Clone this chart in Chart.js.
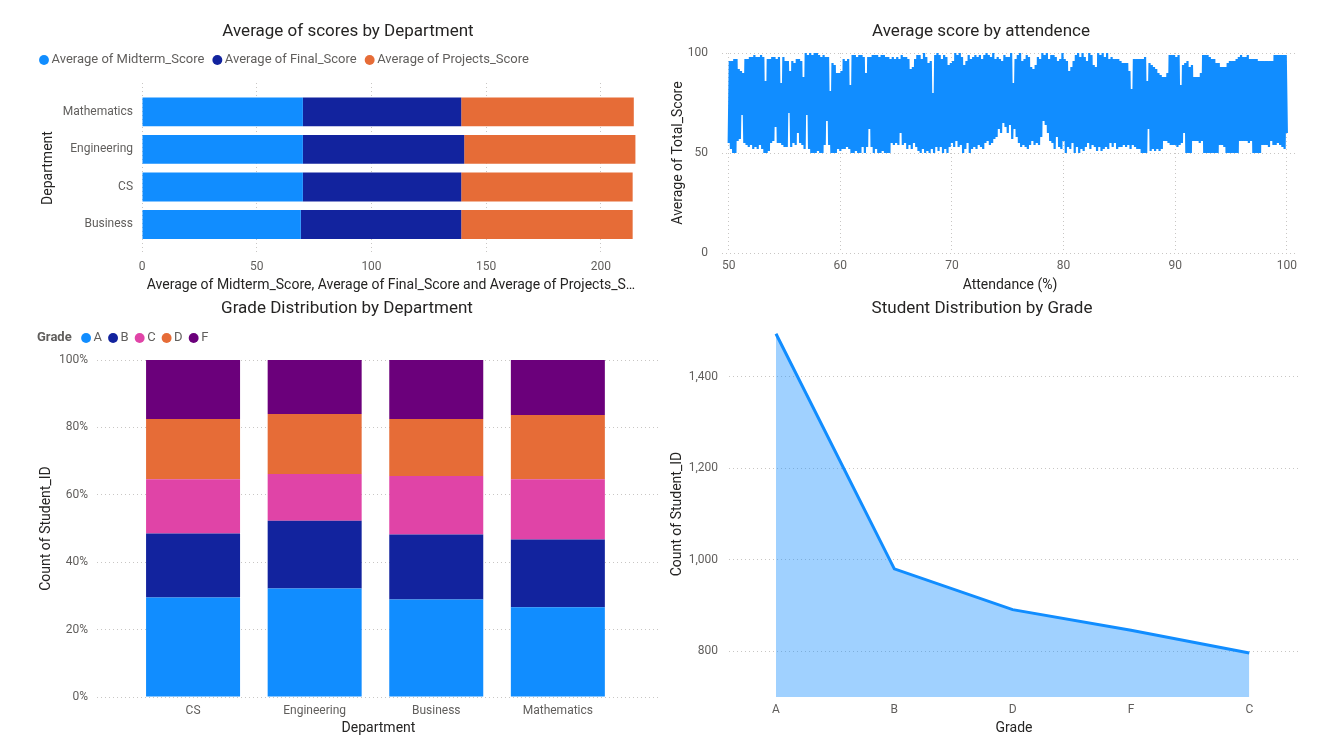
<!DOCTYPE html>
<html>
<head>
<meta charset="utf-8">
<script src="https://cdn.jsdelivr.net/npm/chart.js@4.4.1/dist/chart.umd.min.js"></script>
<style>
html, body { margin: 0; padding: 0; background: #fff; }
body { width: 1325px; height: 738px; position: relative; overflow: hidden; }
canvas { position: absolute; }
</style>
</head>
<body>
<canvas id="c1" width="660" height="295" style="left:0;top:0"></canvas>
<canvas id="c2" width="665" height="295" style="left:660px;top:0"></canvas>
<canvas id="c3" width="660" height="443" style="left:0;top:295px"></canvas>
<canvas id="c4" width="665" height="443" style="left:660px;top:295px"></canvas>
<script>
// --- data: average of scores by department
var departments = ['Mathematics', 'Engineering', 'CS', 'Business'];
var midtermAvg = [70.1, 70.1, 70.1, 69.2];
var finalAvg = [69.0, 70.3, 69.0, 69.9];
var projectsAvg = [75.2, 74.6, 74.7, 74.7];
var scoreTicks = [0, 50, 100, 150, 200];

// --- data: average total score by attendance
var attendance = [
    50.0,50.1,50.2,50.3,50.4,50.5,50.6,50.7,50.8,50.9,
    51.0,51.1,51.2,51.3,51.4,51.5,51.6,51.7,51.8,51.9,
    52.0,52.1,52.2,52.3,52.4,52.5,52.6,52.7,52.8,52.9,
    53.0,53.1,53.2,53.3,53.4,53.5,53.6,53.7,53.8,53.9,
    54.0,54.1,54.2,54.3,54.4,54.5,54.6,54.7,54.8,54.9,
    55.0,55.1,55.2,55.3,55.4,55.5,55.6,55.7,55.8,55.9,
    56.0,56.1,56.2,56.3,56.4,56.5,56.6,56.7,56.8,56.9,
    57.0,57.1,57.2,57.3,57.4,57.5,57.6,57.7,57.8,57.9,
    58.0,58.1,58.2,58.3,58.4,58.5,58.6,58.7,58.8,58.9,
    59.0,59.1,59.2,59.3,59.4,59.5,59.6,59.7,59.8,59.9,
    60.0,60.1,60.2,60.3,60.4,60.5,60.6,60.7,60.8,60.9,
    61.0,61.1,61.2,61.3,61.4,61.5,61.6,61.7,61.8,61.9,
    62.0,62.1,62.2,62.3,62.4,62.5,62.6,62.7,62.8,62.9,
    63.0,63.1,63.2,63.3,63.4,63.5,63.6,63.7,63.8,63.9,
    64.0,64.1,64.2,64.3,64.4,64.5,64.6,64.7,64.8,64.9,
    65.0,65.1,65.2,65.3,65.4,65.5,65.6,65.7,65.8,65.9,
    66.0,66.1,66.2,66.3,66.4,66.5,66.6,66.7,66.8,66.9,
    67.0,67.1,67.2,67.3,67.4,67.5,67.6,67.7,67.8,67.9,
    68.0,68.1,68.2,68.3,68.4,68.5,68.6,68.7,68.8,68.9,
    69.0,69.1,69.2,69.3,69.4,69.5,69.6,69.7,69.8,69.9,
    70.0,70.1,70.2,70.3,70.4,70.5,70.6,70.7,70.8,70.9,
    71.0,71.1,71.2,71.3,71.4,71.5,71.6,71.7,71.8,71.9,
    72.0,72.1,72.2,72.3,72.4,72.5,72.6,72.7,72.8,72.9,
    73.0,73.1,73.2,73.3,73.4,73.5,73.6,73.7,73.8,73.9,
    74.0,74.1,74.2,74.3,74.4,74.5,74.6,74.7,74.8,74.9,
    75.0,75.1,75.2,75.3,75.4,75.5,75.6,75.7,75.8,75.9,
    76.0,76.1,76.2,76.3,76.4,76.5,76.6,76.7,76.8,76.9,
    77.0,77.1,77.2,77.3,77.4,77.5,77.6,77.7,77.8,77.9,
    78.0,78.1,78.2,78.3,78.4,78.5,78.6,78.7,78.8,78.9,
    79.0,79.1,79.2,79.3,79.4,79.5,79.6,79.7,79.8,79.9,
    80.0,80.1,80.2,80.3,80.4,80.5,80.6,80.7,80.8,80.9,
    81.0,81.1,81.2,81.3,81.4,81.5,81.6,81.7,81.8,81.9,
    82.0,82.1,82.2,82.3,82.4,82.5,82.6,82.7,82.8,82.9,
    83.0,83.1,83.2,83.3,83.4,83.5,83.6,83.7,83.8,83.9,
    84.0,84.1,84.2,84.3,84.4,84.5,84.6,84.7,84.8,84.9,
    85.0,85.1,85.2,85.3,85.4,85.5,85.6,85.7,85.8,85.9,
    86.0,86.1,86.2,86.3,86.4,86.5,86.6,86.7,86.8,86.9,
    87.0,87.1,87.2,87.3,87.4,87.5,87.6,87.7,87.8,87.9,
    88.0,88.1,88.2,88.3,88.4,88.5,88.6,88.7,88.8,88.9,
    89.0,89.1,89.2,89.3,89.4,89.5,89.6,89.7,89.8,89.9,
    90.0,90.1,90.2,90.3,90.4,90.5,90.6,90.7,90.8,90.9,
    91.0,91.1,91.2,91.3,91.4,91.5,91.6,91.7,91.8,91.9,
    92.0,92.1,92.2,92.3,92.4,92.5,92.6,92.7,92.8,92.9,
    93.0,93.1,93.2,93.3,93.4,93.5,93.6,93.7,93.8,93.9,
    94.0,94.1,94.2,94.3,94.4,94.5,94.6,94.7,94.8,94.9,
    95.0,95.1,95.2,95.3,95.4,95.5,95.6,95.7,95.8,95.9,
    96.0,96.1,96.2,96.3,96.4,96.5,96.6,96.7,96.8,96.9,
    97.0,97.1,97.2,97.3,97.4,97.5,97.6,97.7,97.8,97.9,
    98.0,98.1,98.2,98.3,98.4,98.5,98.6,98.7,98.8,98.9,
    99.0,99.1,99.2,99.3,99.4,99.5,99.6,99.7,99.8,99.9,
    100.0
];
var avgTotalScore = [
    55,96,52,96,50,97,50,97,56,92,
    57,91,69,90,55,97,54,97,53,98,
    54,98,52,99,53,98,52,98,54,99,
    52,98,50,86,50,97,51,97,55,98,
    56,98,63,97,55,98,55,85,54,98,
    53,96,53,96,70,91,53,96,55,95,
    54,97,60,97,55,96,54,88,52,100,
    69,99,52,100,50,99,50,100,50,100,
    51,99,50,98,50,99,54,98,66,98,
    54,81,50,95,50,94,50,90,52,90,
    51,91,52,97,52,96,53,97,52,84,
    50,99,50,99,51,98,50,99,50,99,
    53,98,50,90,53,98,62,98,53,99,
    50,99,52,99,50,98,50,99,51,99,
    50,98,50,98,50,97,55,98,54,97,
    55,98,54,97,60,99,54,98,55,98,
    52,97,54,92,52,93,55,97,53,99,
    51,99,50,97,52,100,50,98,51,95,
    50,96,52,80,50,99,53,100,51,99,
    53,97,50,99,52,98,50,94,53,95,
    55,96,53,100,56,99,53,100,54,98,
    50,94,52,96,55,99,50,97,52,98,
    53,99,52,98,54,99,53,97,52,99,
    55,100,56,99,54,98,55,100,57,97,
    58,98,62,97,60,96,65,99,63,98,
    60,98,64,100,57,85,62,97,58,99,
    55,100,53,96,54,97,53,99,52,98,
    54,93,56,92,54,94,55,98,54,97,
    58,100,66,99,64,100,60,97,56,99,
    55,99,52,98,58,96,53,97,52,100,
    56,97,50,96,53,91,52,93,55,96,
    50,99,53,100,50,98,52,100,51,98,
    53,96,55,100,52,99,54,94,53,93,
    51,100,53,99,51,100,52,98,53,100,
    52,97,55,98,53,97,55,97,52,97,
    53,96,53,95,54,95,53,95,54,91,
    52,82,54,97,53,97,52,97,52,97,
    50,97,50,98,50,86,62,95,51,94,
    52,93,51,92,52,90,51,89,52,88,
    56,88,56,90,55,99,54,99,54,99,
    54,98,53,99,54,84,55,94,60,95,
    50,96,50,93,50,94,56,88,56,88,
    56,88,55,90,56,99,50,99,50,99,
    50,98,50,97,50,97,50,95,50,95,
    54,93,54,93,53,93,50,95,50,96,
    50,96,50,96,50,97,50,98,56,99,
    56,98,56,98,56,99,55,97,56,97,
    50,97,50,97,50,96,50,96,54,96,
    54,96,54,96,53,96,56,96,54,99,
    54,99,55,99,54,99,53,99,52,99,
    60
];
var attendanceTicks = [50, 60, 70, 80, 90, 100];

// --- data: grade distribution by department (share of students, %)
var gradeDepartments = ['CS', 'Engineering', 'Business', 'Mathematics'];
var shareA = [29.5, 32.2, 28.9, 26.6];
var shareB = [19.0, 20.1, 19.3, 20.1];
var shareC = [16.1, 13.9, 17.4, 17.9];
var shareD = [17.9, 17.8, 16.9, 19.1];
var shareF = [17.5, 16.0, 17.5, 16.3];

// --- data: students by grade
var gradeOrder = ['A', 'B', 'D', 'F', 'C'];
var gradeCounts = [1494, 980, 891, 846, 796];
var countTicks = [800, 1000, 1200, 1400];

var BLUE = '#118DFF', NAVY = '#12239E', ORANGE = '#E66C37', PINK = '#E044A7', PURPLE = '#6B007B';
var TXT = '#252423', TICK = '#605E5C';

Chart.defaults.font.family = 'Roboto, "Open Sans", sans-serif';
Chart.defaults.color = TICK;
Chart.defaults.animation = false;
Chart.defaults.plugins.tooltip.enabled = false;

const dotGrid = { color: '#C8C6C4', lineWidth: 1, drawTicks: false };
const noGrid = { display: false, drawTicks: false };
const noBorderDots = { display: false, dash: [1, 3] };
const chartTitle = (text, top, bottom) => ({
    display: true, text: text, color: TXT,
    font: { size: 17, weight: 'normal' },
    padding: { top: top, bottom: bottom }
});
const spacer = (h) => ({
    display: true, text: '', weight: 500, padding: 0,
    font: { size: h, lineHeight: 1 }
});
const axisTitle = (text, padding) => ({
    display: true, text: text, color: TXT, font: { size: 14 }, padding: padding
});
const legendLabels = (pad) => ({
    usePointStyle: true, pointStyle: 'circle', boxWidth: 2, boxHeight: 7,
    padding: pad, color: TICK, font: { size: 13 }
});
const fixedTicks = (values) => (s) => { s.ticks = values.map(v => ({ value: v })); };

// ---------- chart 1
new Chart(document.getElementById('c1'), {
    type: 'bar',
    data: {
        datasets: [
            { label: 'Average of Midterm_Score', data: midtermAvg.map((v, i) => ({ x: v, y: i })), backgroundColor: BLUE, yAxisID: 'y' },
            { label: 'Average of Final_Score', data: finalAvg.map((v, i) => ({ x: v, y: i })), backgroundColor: NAVY, yAxisID: 'y' },
            { label: 'Average of Projects_Score', data: projectsAvg.map((v, i) => ({ x: v, y: i })), backgroundColor: ORANGE, yAxisID: 'y' }
        ]
    },
    options: {
        responsive: false,
        indexAxis: 'y',
        categoryPercentage: 1,
        barPercentage: 0.77,
        layout: { padding: { left: 31, right: -5, top: 0, bottom: 0 } },
        plugins: {
            title: chartTitle('Average of scores by Department', 21.1, 0),
            subtitle: spacer(6.5),
            legend: { position: 'top', align: 'start', labels: legendLabels(12) }
        },
        scales: {
            x: {
                type: 'linear', stacked: true, min: 0, max: 217,
                afterBuildTicks: fixedTicks(scoreTicks),
                ticks: { padding: 7, font: { size: 12 } },
                grid: dotGrid, border: noBorderDots,
                title: axisTitle('Average of Midterm_Score, Average of Final_Score and Average of Projects_S\u2026', { top: 0, bottom: 1 }),
                afterFit: s => { s.height = 42; }
            },
            y: {
                type: 'linear', stacked: true, reverse: true, offset: false, min: -0.77, max: 3.76,
                afterBuildTicks: fixedTicks(departments.map((d, i) => i)),
                ticks: { callback: v => departments[v], padding: 9, font: { size: 12 } },
                grid: noGrid, border: { display: false },
                title: axisTitle('Department', { top: 8.6, bottom: 0 }),
                afterFit: s => { s.width = 111; }
            },
            pad: {
                type: 'linear', axis: 'y', position: 'right',
                ticks: { display: false }, grid: noGrid, border: { display: false },
                afterFit: s => { s.width = 25; }
            }
        }
    }
});

// ---------- chart 2
new Chart(document.getElementById('c2'), {
    type: 'line',
    data: {
        datasets: [{
            label: 'Average of Total_Score',
            data: attendance.map((a, i) => ({ x: a, y: avgTotalScore[i] })),
            borderColor: BLUE, borderWidth: 2.2, borderJoinStyle: 'bevel',
            pointRadius: 0, tension: 0, fill: false
        }]
    },
    options: {
        responsive: false,
        layout: { padding: { left: 4, right: 27, top: 0, bottom: 0 } },
        plugins: {
            title: chartTitle('Average score by attendence', 21.8, 10.8),
            legend: { display: false }
        },
        scales: {
            x: {
                type: 'linear', min: 49.4, max: 101,
                afterBuildTicks: fixedTicks(attendanceTicks),
                ticks: { padding: 6, font: { size: 12 } },
                grid: dotGrid, border: noBorderDots,
                title: axisTitle('Attendance (%)', { top: 0, bottom: 1 }),
                afterFit: s => { s.height = 42; }
            },
            y: {
                min: 0, max: 100,
                ticks: { stepSize: 50, padding: 14, font: { size: 12 } },
                grid: dotGrid, border: noBorderDots,
                title: axisTitle('Average of Total_Score', { top: 5.6, bottom: 0 }),
                afterFit: s => { s.width = 58; }
            }
        }
    }
});

// ---------- chart 3
const gradeLabel = {
    id: 'gradeLabel',
    afterDraw(chart) {
        const hb = chart.legend.legendHitBoxes[0];
        const ctx = chart.ctx;
        ctx.save();
        ctx.font = 'bold 13px Roboto, "Open Sans", sans-serif';
        ctx.fillStyle = TICK;
        ctx.textBaseline = 'middle';
        ctx.fillText('Grade', hb.left - 7, hb.top + hb.height / 2);
        ctx.restore();
    }
};
const gradeSet = (label, values, color) => ({
    label: label, data: values.map((v, i) => ({ x: i, y: v })), backgroundColor: color
});
const gradeLegend = legendLabels(10);
gradeLegend.generateLabels = chart => {
    const items = Chart.defaults.plugins.legend.labels.generateLabels(chart);
    items.unshift({ text: '       ', fillStyle: 'rgba(0,0,0,0)', strokeStyle: 'rgba(0,0,0,0)', lineWidth: 0, hidden: false, datasetIndex: -1 });
    return items;
};
new Chart(document.getElementById('c3'), {
    type: 'bar',
    data: {
        datasets: [
            gradeSet('A', shareA, BLUE),
            gradeSet('B', shareB, NAVY),
            gradeSet('C', shareC, PINK),
            gradeSet('D', shareD, ORANGE),
            gradeSet('F', shareF, PURPLE)
        ]
    },
    options: {
        responsive: false,
        categoryPercentage: 1,
        barPercentage: 0.773,
        layout: { padding: { left: 34, right: 0, top: 0, bottom: 0 } },
        plugins: {
            title: chartTitle('Grade Distribution by Department', 3.8, 2.3),
            subtitle: spacer(5.5),
            legend: { position: 'top', align: 'start', labels: gradeLegend }
        },
        scales: {
            x: {
                type: 'linear', stacked: true, offset: false, min: -0.79, max: 3.84,
                afterBuildTicks: fixedTicks(gradeDepartments.map((d, i) => i)),
                ticks: { callback: v => gradeDepartments[v], padding: 7, font: { size: 12 } },
                grid: noGrid, border: { display: false },
                title: axisTitle('Department', { top: 0, bottom: 1 }),
                afterFit: s => { s.height = 41; }
            },
            y: {
                stacked: true, min: 0, max: 100,
                ticks: { stepSize: 20, padding: 9, font: { size: 12 }, callback: v => v + '%' },
                grid: dotGrid, border: noBorderDots,
                title: axisTitle('Count of Student_ID', { top: 3.6, bottom: 0 }),
                afterFit: s => { s.width = 63; }
            }
        }
    },
    plugins: [gradeLabel]
});

// ---------- chart 4
new Chart(document.getElementById('c4'), {
    type: 'line',
    data: {
        datasets: [{
            label: 'Count of Student_ID',
            data: gradeCounts.map((v, i) => ({ x: i, y: v })),
            borderColor: BLUE, borderWidth: 3, backgroundColor: 'rgba(17,141,255,0.4)',
            fill: 'start', pointRadius: 0, tension: 0
        }]
    },
    options: {
        responsive: false,
        layout: { padding: { left: 5, right: 26, top: 0, bottom: 0 } },
        plugins: {
            title: chartTitle('Student Distribution by Grade', 3.8, 11.8),
            legend: { display: false }
        },
        scales: {
            x: {
                type: 'linear', min: -0.397, max: 4.42,
                afterBuildTicks: fixedTicks(gradeOrder.map((g, i) => i)),
                ticks: { callback: v => gradeOrder[v], padding: 6, font: { size: 12 } },
                grid: noGrid, border: { display: false },
                title: axisTitle('Grade', { top: 0, bottom: 1 }),
                afterFit: s => { s.height = 41; }
            },
            y: {
                min: 700, max: 1500,
                afterBuildTicks: fixedTicks(countTicks),
                ticks: { padding: 11, font: { size: 12 } },
                grid: dotGrid, border: noBorderDots,
                title: axisTitle('Count of Student_ID', { top: 3.6, bottom: 0 }),
                afterFit: s => { s.width = 64; }
            }
        }
    }
});
</script>
</body>
</html>
